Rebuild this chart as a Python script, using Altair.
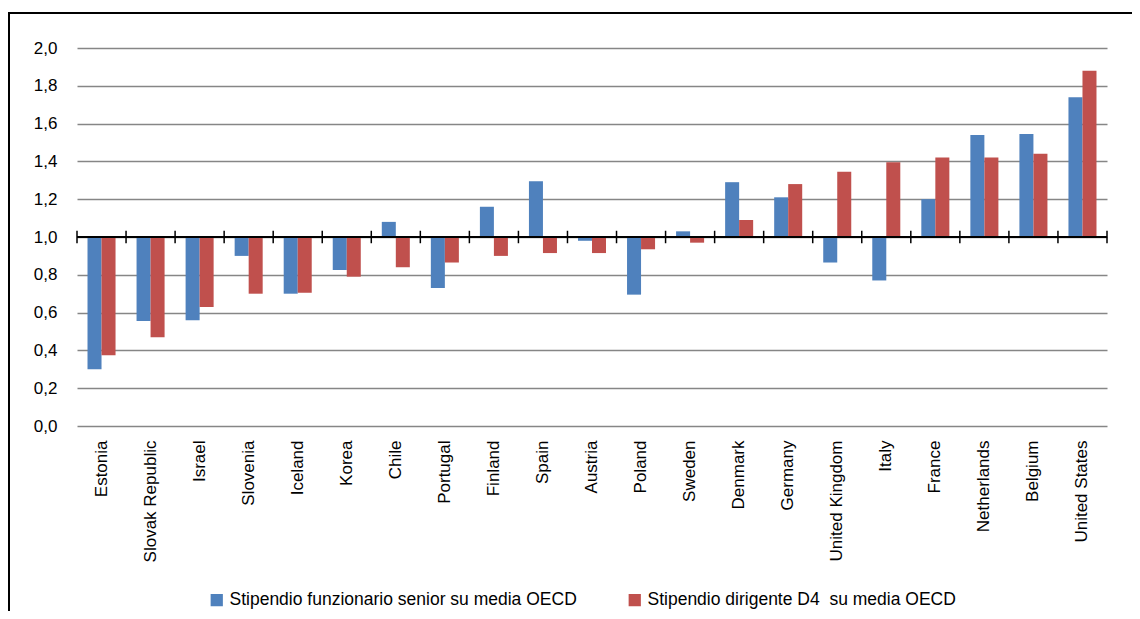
import altair as alt
import pandas as pd

countries = ["Estonia", "Slovak Republic", "Israel", "Slovenia", "Iceland", "Korea", "Chile",
             "Portugal", "Finland", "Spain", "Austria", "Poland", "Sweden", "Denmark", "Germany",
             "United Kingdom", "Italy", "France", "Netherlands", "Belgium", "United States"]
senior = [0.30, 0.555, 0.56, 0.90, 0.70, 0.825, 1.08, 0.73, 1.16, 1.295, 0.98, 0.695, 1.03,
          1.29, 1.21, 0.865, 0.77, 1.20, 1.54, 1.545, 1.74]
d4 = [0.375, 0.47, 0.63, 0.70, 0.705, 0.79, 0.84, 0.865, 0.90, 0.915, 0.915, 0.935, 0.97,
      1.09, 1.28, 1.345, 1.395, 1.42, 1.42, 1.44, 1.88]
series_names = ["Stipendio funzionario senior su media OECD",
                "Stipendio dirigente D4  su media OECD"]
colors = ["#4F81BD", "#C0504D"]
y_ticks = [0.0, 0.2, 0.4, 0.6, 0.8, 1.0, 1.2, 1.4, 1.6, 1.8, 2.0]
baseline = 1.0

rows = []
for c, a, b in zip(countries, senior, d4):
    rows.append({"country": c, "series": series_names[0], "value": a})
    rows.append({"country": c, "series": series_names[1], "value": b})
df = pd.DataFrame(rows)
cdf = pd.DataFrame({"country": countries})

W, H = 1030, 378
FONT = "Liberation Sans, Arial, sans-serif"

xscale = alt.Scale(domain=countries, paddingInner=0, paddingOuter=0)
yscale = alt.Scale(domain=[0, 2], nice=False)
xaxis = alt.Axis(title=None, labelAngle=-90, domain=False, ticks=False, labelFont=FONT,
                 labelFontSize=17, labelColor="black", labelPadding=14, grid=False,
                 bandPosition=0.5)
yaxis = alt.Axis(title=None, values=y_ticks, domain=False, ticks=False, labelOverlap=False,
                 labelExpr="replace(format(datum.value, '.1f'), '.', ',')",
                 labelFont=FONT, labelFontSize=17, labelColor="black",
                 labelPadding=20, grid=True, gridColor="#868686", gridWidth=1.5)

bars = alt.Chart(df).mark_bar().encode(
    x=alt.X("country:N", sort=countries, scale=xscale, axis=xaxis),
    xOffset=alt.XOffset("series:N", sort=series_names,
                        scale=alt.Scale(domain=series_names, paddingInner=0, paddingOuter=0.75)),
    y=alt.Y("value:Q", scale=yscale, axis=yaxis),
    y2=alt.Y2(datum=baseline),
    color=alt.Color("series:N", sort=series_names,
                    scale=alt.Scale(domain=series_names, range=colors),
                    legend=alt.Legend(title=None, orient="none", direction="horizontal",
                                      legendX=131, legendY=543, symbolType="square",
                                      symbolSize=150, symbolStrokeWidth=0, labelOffset=4,
                                      columnPadding=49, labelFont=FONT, labelFontSize=17.5,
                                      labelColor="black", labelLimit=500,
                                      labelExpr="replace(datum.label, '  ', ' \u00a0')")),
)

base_line = alt.Chart(cdf).mark_rule(color="black", strokeWidth=2).encode(
    y=alt.Y(datum=baseline, scale=yscale, axis=yaxis), x=alt.value(0), x2=alt.value(W))

ticks = alt.Chart(cdf).mark_rule(color="black", strokeWidth=1.5).encode(
    x=alt.X("country:N", sort=countries, scale=xscale, bandPosition=0, axis=xaxis),
    y=alt.Y(datum=baseline - 0.033, scale=yscale, axis=yaxis),
    y2=alt.Y2(datum=baseline + 0.033))

end_tick = alt.Chart(cdf.head(1)).mark_rule(color="black", strokeWidth=1.5).encode(
    x=alt.value(W), y=alt.Y(datum=baseline - 0.033, scale=yscale, axis=yaxis),
    y2=alt.Y2(datum=baseline + 0.033))

border = alt.Chart(cdf.head(1)).mark_rect(fillOpacity=0, stroke="black", strokeWidth=2).encode(
    x=alt.value(-68), x2=alt.value(W + 100), y=alt.value(-35), y2=alt.value(H + 300))

chart = alt.layer(bars, base_line, ticks, end_tick, border).properties(
    width=W, height=H,
    background="white",
    autosize=alt.AutoSizeParams(type="none"),
    padding={"left": 69, "top": 40, "right": 25, "bottom": 185},
).configure_view(stroke=None)

chart.save("out.html", embed_options={"renderer": "svg", "actions": False})
